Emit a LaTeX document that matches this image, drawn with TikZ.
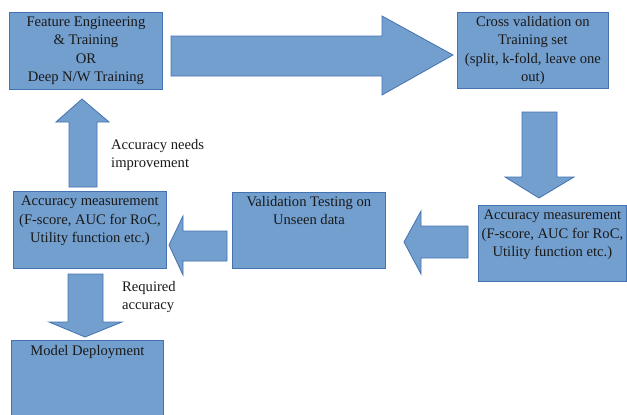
\documentclass[tikz,border=0pt]{standalone}
\usepackage{fontspec}
\setmainfont{Liberation Serif}
\usetikzlibrary{calc}
\definecolor{boxfill}{RGB}{115,159,207}
\definecolor{boxline}{RGB}{68,114,176}
\begin{document}
\begin{tikzpicture}[x=1pt,y=-1pt,
  blk/.style={draw=boxline, fill=boxfill, line width=0.8pt, line join=miter},
  box/.style={blk, rectangle, inner sep=0pt, anchor=north west},
  txt/.style={font=\fontsize{14.6}{18.5}\selectfont, align=center, inner sep=0pt, text=black!90},
  note/.style={font=\fontsize{14.6}{18.5}\selectfont, align=left, inner sep=0pt, anchor=north west, text=black!90}]
\useasboundingbox (0,0) rectangle (627,415);

% process boxes
\node[box, minimum width=153pt, minimum height=77pt] (fe)   at (9,12)   {};
\node[box, minimum width=151pt, minimum height=76pt] (cv)   at (457,12) {};
\node[box, minimum width=148pt, minimum height=76pt] (accr) at (478,205) {};
\node[box, minimum width=153pt, minimum height=76pt] (val)  at (232,192) {};
\node[box, minimum width=153pt, minimum height=77pt] (accl) at (13,191) {};
\node[box, minimum width=152pt, minimum height=80pt] (md)   at (11,340) {};

% box texts
\node[txt] (fet) at (fe.center) {Feature Engineering\\\& Training\\OR\\Deep N/W Training};
\node[txt] (cvt) at (cv.center) {Cross validation on\\Training set\\(split, k-fold, leave one\\out)};
\node[txt, anchor=north] (accrt) at ([yshift=-5pt]accr.north) {Accuracy measurement\\(F-score, AUC for RoC,\\Utility function etc.)};
\node[txt, anchor=north] (valt) at ([yshift=-4pt]val.north) {Validation Testing on\\Unseen data};
\node[txt, anchor=north] (acclt) at ([yshift=-5pt]accl.north) {Accuracy measurement\\(F-score, AUC for RoC,\\Utility function etc.)};
\node[txt, anchor=north] (mdt) at ([yshift=-5pt]md.north) {Model Deployment};

% block arrows
\draw[blk] (171,36) -- (382,36) -- (382,16) -- (453,55) -- (382,95) -- (382,76) -- (171,76) -- cycle;
\draw[blk] (522,112) -- (557,112) -- (557,177) -- (574,177) -- (539,198) -- (505,177) -- (522,177) -- cycle;
\draw[blk] (468,226) -- (421,226) -- (421,211) -- (404,242) -- (421,274) -- (421,258) -- (468,258) -- cycle;
\draw[blk] (227,231) -- (183,231) -- (183,216) -- (169,245) -- (183,275) -- (183,261) -- (227,261) -- cycle;
\draw[blk] (69,187) -- (69,122) -- (56,122) -- (82,99) -- (109,122) -- (97,122) -- (97,187) -- cycle;
\draw[blk] (68,274) -- (103,274) -- (103,322) -- (122,322) -- (85,337) -- (49,322) -- (68,322) -- cycle;

% decision notes
\node[note] (improve) at (111,139) {Accuracy needs\\improvement};
\node[note] (required) at (122,281) {Required\\accuracy};
\end{tikzpicture}
\end{document}
